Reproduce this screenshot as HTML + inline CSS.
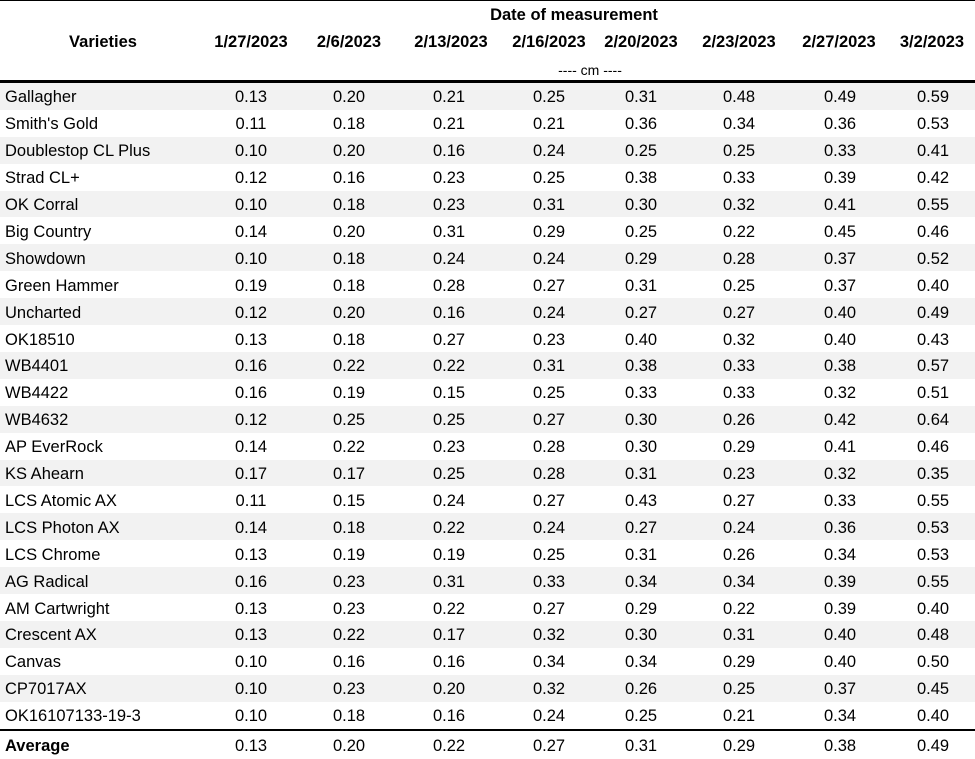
<!DOCTYPE html>
<html><head><meta charset="utf-8"><style>
body{margin:0;width:975px;height:759px;background:#fff;font-family:"Liberation Sans",sans-serif;color:#000;position:relative;overflow:hidden}
.a{position:absolute;white-space:nowrap}
.h{font-weight:bold;font-size:16.5px;transform:translateX(-50%)}
.r{position:absolute;left:0;width:975px;height:26.9px;font-size:16.5px}
.r.s{background:#f2f2f2}
.r span{position:absolute;top:50%;transform:translate(-50%,-42%);white-space:nowrap}
.r span.n{left:5px;transform:translate(0,-42%)}
</style></head><body>
<div class="a" style="left:0;top:0;width:975px;height:1px;background:#000"></div>
<div class="a h" style="left:574px;top:6px">Date of measurement</div>
<div class="a h" style="left:103px;top:33px">Varieties</div>
<div class="a h" style="left:251px;top:33px">1/27/2023</div>
<div class="a h" style="left:349px;top:33px">2/6/2023</div>
<div class="a h" style="left:451px;top:33px">2/13/2023</div>
<div class="a h" style="left:549px;top:33px">2/16/2023</div>
<div class="a h" style="left:641px;top:33px">2/20/2023</div>
<div class="a h" style="left:739px;top:33px">2/23/2023</div>
<div class="a h" style="left:839px;top:33px">2/27/2023</div>
<div class="a h" style="left:932px;top:33px">3/2/2023</div>
<div class="a" style="left:590px;top:62px;font-size:14px;transform:translateX(-50%)">---- cm ----</div>
<div class="a" style="left:0;top:80px;width:975px;height:3px;background:#000"></div>
<div id="rows"></div>
<div class="a" style="left:0;top:729px;width:975px;height:2px;background:#000"></div>
<script>
var d=[["Gallagher","0.13","0.20","0.21","0.25","0.31","0.48","0.49","0.59"],
["Smith's Gold","0.11","0.18","0.21","0.21","0.36","0.34","0.36","0.53"],
["Doublestop CL Plus","0.10","0.20","0.16","0.24","0.25","0.25","0.33","0.41"],
["Strad CL+","0.12","0.16","0.23","0.25","0.38","0.33","0.39","0.42"],
["OK Corral","0.10","0.18","0.23","0.31","0.30","0.32","0.41","0.55"],
["Big Country","0.14","0.20","0.31","0.29","0.25","0.22","0.45","0.46"],
["Showdown","0.10","0.18","0.24","0.24","0.29","0.28","0.37","0.52"],
["Green Hammer","0.19","0.18","0.28","0.27","0.31","0.25","0.37","0.40"],
["Uncharted","0.12","0.20","0.16","0.24","0.27","0.27","0.40","0.49"],
["OK18510","0.13","0.18","0.27","0.23","0.40","0.32","0.40","0.43"],
["WB4401","0.16","0.22","0.22","0.31","0.38","0.33","0.38","0.57"],
["WB4422","0.16","0.19","0.15","0.25","0.33","0.33","0.32","0.51"],
["WB4632","0.12","0.25","0.25","0.27","0.30","0.26","0.42","0.64"],
["AP EverRock","0.14","0.22","0.23","0.28","0.30","0.29","0.41","0.46"],
["KS Ahearn","0.17","0.17","0.25","0.28","0.31","0.23","0.32","0.35"],
["LCS Atomic AX","0.11","0.15","0.24","0.27","0.43","0.27","0.33","0.55"],
["LCS Photon AX","0.14","0.18","0.22","0.24","0.27","0.24","0.36","0.53"],
["LCS Chrome","0.13","0.19","0.19","0.25","0.31","0.26","0.34","0.53"],
["AG Radical","0.16","0.23","0.31","0.33","0.34","0.34","0.39","0.55"],
["AM Cartwright","0.13","0.23","0.22","0.27","0.29","0.22","0.39","0.40"],
["Crescent AX","0.13","0.22","0.17","0.32","0.30","0.31","0.40","0.48"],
["Canvas","0.10","0.16","0.16","0.34","0.34","0.29","0.40","0.50"],
["CP7017AX","0.10","0.23","0.20","0.32","0.26","0.25","0.37","0.45"],
["OK16107133-19-3","0.10","0.18","0.16","0.24","0.25","0.21","0.34","0.40"],
["Average","0.13","0.20","0.22","0.27","0.31","0.29","0.38","0.49"]];
var xs=[251,349,449,549,641,739,840,933],h="";
d.forEach(function(r,i){var top=i<24?83+i*26.9:731;var ht=i<24?26.9:27;
h+='<div class="r'+(i<24&&i%2==0?' s':'')+'" style="top:'+top+'px;height:'+ht+'px"><span class="n"'+(i==24?' style="font-weight:bold"':'')+'>'+r[0]+'</span>';
for(var j=1;j<9;j++)h+='<span style="left:'+xs[j-1]+'px">'+r[j]+'</span>';h+='</div>';});
document.getElementById('rows').innerHTML=h;
</script>
</body></html>
